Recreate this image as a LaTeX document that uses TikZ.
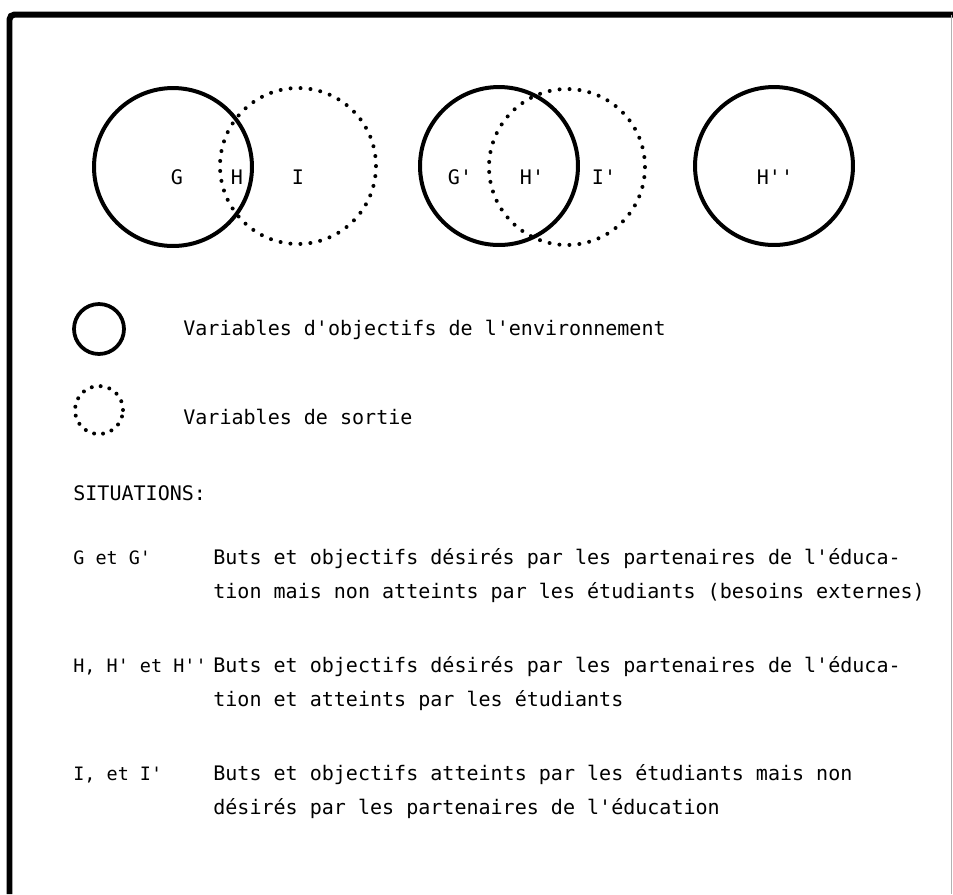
\documentclass[tikz,border=0pt]{standalone}
\usepackage{fontspec}
\setmonofont{DejaVu Sans Mono}
\usetikzlibrary{positioning}
\newcommand{\txtfont}{\ttfamily\fontsize{11.4pt}{19.9pt}\selectfont}
\newcommand{\keyfont}{\ttfamily\fontsize{10.5pt}{19.9pt}\selectfont}
\newcommand{\twolines}[2]{\vtop{\hbox{#1}\hbox{#2}}}

\begin{document}
\begin{tikzpicture}[x=0.02cm,y=-0.02cm,
  envset/.style={circle,draw,line width=0.08cm,minimum size=3.16cm,inner sep=0pt},
  outset/.style={circle,draw,line width=0.08cm,dash pattern=on 0pt off 0.2cm,line cap=round,minimum size=3.12cm,inner sep=0pt},
  setlabel/.style={font=\txtfont,inner sep=0pt},
  keytxt/.style={font=\keyfont,inner sep=0pt,anchor=base west},
  bodytxt/.style={font=\txtfont,inner sep=0pt,anchor=base west}]
 \useasboundingbox (0,0) rectangle (953,894);
 % frame
 \draw[line width=0.12cm,rounded corners=0.1cm] (9.5,894) -- (9.5,14.5) -- (953,14.5);
 \draw[gray!60,line width=0.5pt] (951,14.5) -- (951,894);
 % the three situations
 \node[envset] (gset) at (173,167) {};
 \node[outset] (iset) at (298,166) {};
 \node[envset] (gpset) at (499,166) {};
 \node[outset] (ipset) at (567,167) {};
 \node[envset] (hppset) at (774,166) {};
 \node[setlabel] (lg) at (177,177) {G};
 \node[setlabel] (lh) at (237,177) {H};
 \node[setlabel] (li) at (298,177) {I};
 \node[setlabel] (lgp) at (460,177) {G'};
 \node[setlabel] (lhp) at (532,177) {H'};
 \node[setlabel] (lip) at (604,177) {I'};
 \node[setlabel] (lhpp) at (775,177) {H''};
 % legend
 \node[envset,minimum size=1cm,line width=0.075cm] (envkey) at (99,329) {};
 \node[outset,minimum size=0.96cm,dash pattern=on 0pt off 0.18cm] (outkey) at (99,410) {};
 \node[bodytxt] (envtxt) at (183,335) {Variables d'objectifs de l'environnement};
 \node[bodytxt] (outtxt) at (183,424) {Variables de sortie};
 \node[bodytxt] (situ) at (73,500) {SITUATIONS:};
 % situations
 \node[keytxt] (kg) at (73,564) {G et G'};
 \node[bodytxt] (tg) at (213,564) {\twolines{Buts et objectifs désirés par les partenaires de l'éduca-}{tion mais non atteints par les étudiants (besoins externes)}};
 \node[keytxt] (kh) at (73,672) {H, H' et H''};
 \node[bodytxt] (th) at (213,672) {\twolines{Buts et objectifs désirés par les partenaires de l'éduca-}{tion et atteints par les étudiants}};
 \node[keytxt] (ki) at (73,780) {I, et I'};
 \node[bodytxt] (ti) at (213,780) {\twolines{Buts et objectifs atteints par les étudiants mais non}{désirés par les partenaires de l'éducation}};
\end{tikzpicture}
\end{document}
